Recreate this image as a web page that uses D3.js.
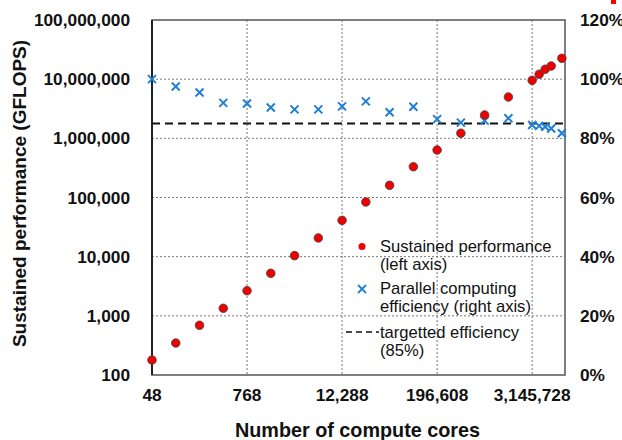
<!DOCTYPE html>
<html lang="en">
<head>
<meta charset="UTF-8">
<title>Scaling</title>
<script src="https://d3js.org/d3.v7.min.js"></script>
<style>
    body, html { margin: 0; padding: 0; background: #fff; }
    svg { display: block; font-family: "Liberation Sans", Arial, sans-serif; }
    .tick-label { font-size: 17.3px; font-weight: bold; fill: #111; }
    .axis-title { font-weight: bold; fill: #111; }
    .legend-text { font-size: 16.6px; fill: #111; }
</style>
</head>
<body>
<script>
'use strict'

// data
const cores = [48, 96, 192, 384, 768, 1536, 3072, 6144, 12288, 24576, 49152, 98304,
    196608, 393216, 786432, 1572864, 3145728, 3860000, 4600000, 5480000, 7480000]
const performance = [179, 347, 692, 1340, 2660, 5230, 10400, 20700, 41100, 84000, 160700,
    331000, 635000, 1220000, 2480000, 4990000, 9550000, 12100000, 14700000, 16700000, 22500000]
const efficiency = [1.00, 0.975, 0.955, 0.92, 0.918, 0.904, 0.898, 0.898, 0.908, 0.925, 0.888,
    0.907, 0.865, 0.853, 0.860, 0.868, 0.845, 0.842, 0.839, 0.833, 0.817]
const targetEfficiency = 0.85

const xTicks = [48, 768, 12288, 196608, 3145728]
const yTicks = [100, 1000, 10000, 100000, 1000000, 10000000, 100000000]
const yRightTicks = [0, 0.2, 0.4, 0.6, 0.8, 1.0, 1.2]

const W = 622, H = 440
const m = {left: 152, right: 565, top: 20, bottom: 375}

const svg = d3.select('body').append('svg')
    .attr('width', W)
    .attr('height', H)

const x = d3.scaleLog().base(2).domain([48, 8200000]).range([m.left, m.right])
const y = d3.scaleLog().domain([100, 1e8]).range([m.bottom, m.top])
const yR = d3.scaleLinear().domain([0, 1.2]).range([m.bottom, m.top])

const fmt = d3.format(',')

//grid
svg.append('g').selectAll('line')
    .data(yTicks.slice(1, -1))
    .enter().append('line')
    .attr('x1', m.left).attr('x2', m.right)
    .attr('y1', d => y(d)).attr('y2', d => y(d))
    .attr('stroke', '#777').attr('stroke-width', 1).attr('stroke-dasharray', '2,2')

svg.append('g').selectAll('line')
    .data(xTicks.slice(1))
    .enter().append('line')
    .attr('x1', d => x(d)).attr('x2', d => x(d))
    .attr('y1', m.top).attr('y2', m.bottom)
    .attr('stroke', '#777').attr('stroke-width', 1).attr('stroke-dasharray', '2,2')

//frame
svg.append('rect')
    .attr('x', m.left).attr('y', m.top)
    .attr('width', m.right - m.left).attr('height', m.bottom - m.top)
    .attr('fill', 'none').attr('stroke', '#555').attr('stroke-width', 1.5)
svg.append('line')
    .attr('x1', m.left).attr('x2', m.left).attr('y1', m.top).attr('y2', m.bottom)
    .attr('stroke', '#222').attr('stroke-width', 2)

//tick labels
svg.append('g').selectAll('text')
    .data(yTicks)
    .enter().append('text')
    .attr('class', 'tick-label')
    .attr('x', 130).attr('y', d => y(d))
    .attr('dy', '0.35em').attr('text-anchor', 'end')
    .text(d => fmt(d))

svg.append('g').selectAll('text')
    .data(yRightTicks)
    .enter().append('text')
    .attr('class', 'tick-label')
    .attr('x', 580).attr('y', d => yR(d))
    .attr('dy', '0.35em').attr('text-anchor', 'start')
    .text(d => d3.format('.0%')(d))

svg.append('g').selectAll('text')
    .data(xTicks)
    .enter().append('text')
    .attr('class', 'tick-label')
    .attr('x', d => x(d)).attr('y', 395)
    .attr('dy', '0.35em').attr('text-anchor', 'middle')
    .text(d => fmt(d))

//axis titles
svg.append('text')
    .attr('class', 'axis-title')
    .attr('transform', `translate(26, 193.5) rotate(-90)`)
    .attr('text-anchor', 'middle')
    .style('font-size', '19px')
    .text('Sustained performance (GFLOPS)')

svg.append('text')
    .attr('class', 'axis-title')
    .attr('x', 357.5).attr('y', 436.5)
    .attr('text-anchor', 'middle')
    .style('font-size', '19.8px')
    .text('Number of compute cores')

//target line
svg.append('line')
    .attr('x1', m.left).attr('x2', m.right)
    .attr('y1', yR(targetEfficiency)).attr('y2', yR(targetEfficiency))
    .attr('stroke', '#111').attr('stroke-width', 2).attr('stroke-dasharray', '8,5')

//efficiency crosses
const crossPath = 'M-4,-4L4,4M-4,4L4,-4'
svg.append('g').selectAll('path')
    .data(cores)
    .enter().append('path')
    .attr('d', crossPath)
    .attr('transform', (d, i) => `translate(${x(d)}, ${yR(efficiency[i])})`)
    .attr('stroke', '#1f7fd4').attr('stroke-width', 2).attr('fill', 'none')

//performance dots
svg.append('g').selectAll('circle')
    .data(cores)
    .enter().append('circle')
    .attr('cx', d => x(d))
    .attr('cy', (d, i) => y(performance[i]))
    .attr('r', 4.3)
    .attr('fill', '#ee0000').attr('stroke', '#444').attr('stroke-width', 0.8)

//legend
const lg = svg.append('g')
lg.append('circle').attr('cx', 362).attr('cy', 246.5).attr('r', 3.5).attr('fill', '#ee0000')
lg.append('path').attr('d', 'M-4,-4L4,4M-4,4L4,-4').attr('transform', 'translate(362, 289)')
    .attr('stroke', '#1f7fd4').attr('stroke-width', 1.8)
lg.append('line').attr('x1', 346).attr('x2', 379).attr('y1', 332).attr('y2', 332)
    .attr('stroke', '#111').attr('stroke-width', 1.5).attr('stroke-dasharray', '6,4')

const legendLines = [
    ['Sustained performance', 252],
    ['(left axis)', 270],
    ['Parallel computing', 294],
    ['efficiency (right axis)', 312],
    ['targetted efficiency', 338],
    ['(85%)', 356]
]
lg.selectAll('text')
    .data(legendLines)
    .enter().append('text')
    .attr('class', 'legend-text')
    .attr('x', 380).attr('y', d => d[1])
    .text(d => d[0])

//red mark at top-right corner
svg.append('rect').attr('x', 611).attr('y', 0).attr('width', 5).attr('height', 4).attr('fill', '#ff0000')
</script>
</body>
</html>
